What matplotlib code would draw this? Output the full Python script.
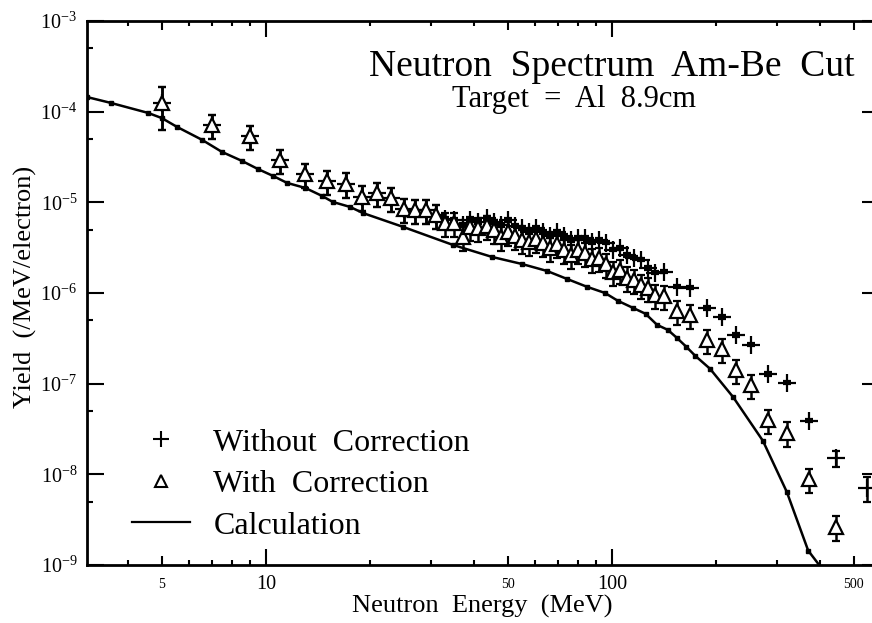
import matplotlib
matplotlib.use('Agg')
import matplotlib.pyplot as plt
from matplotlib.ticker import FixedLocator, FuncFormatter, NullFormatter, LogLocator
from matplotlib.lines import Line2D
import numpy as np

# ---------------- data ----------------
energy_with = [5, 7, 9, 11, 13, 15, 17, 19, 21, 23, 25, 27, 29, 31, 33, 35, 37, 39, 41,
               43.5, 45.6, 47.8, 50.0, 52.5, 54.9, 57.6, 60.3, 63.2, 66.2, 69.3, 72.7,
               76.1, 79.7, 83.6, 87.5, 91.7, 96.1, 100.7, 105.5, 110.5, 115.8, 121.3,
               127.1, 133.2, 141.4, 154, 168, 188, 208, 228, 252, 282, 320, 371, 444]
yield_with = [1.25e-4, 7.1e-5, 5.4e-5, 2.93e-5, 2.06e-5, 1.72e-5, 1.60e-5, 1.15e-5,
              1.27e-5, 1.12e-5, 8.45e-6, 8.24e-6, 8.24e-6, 7.26e-6, 5.93e-6, 5.93e-6,
              4.16e-6, 5.36e-6, 5.22e-6, 5.50e-6, 4.97e-6, 4.16e-6, 4.72e-6, 4.26e-6,
              3.85e-6, 3.66e-6, 3.95e-6, 3.57e-6, 3.14e-6, 3.48e-6, 2.99e-6, 2.63e-6,
              2.99e-6, 2.77e-6, 2.38e-6, 2.44e-6, 2.09e-6, 1.71e-6, 1.80e-6, 1.47e-6,
              1.39e-6, 1.23e-6, 1.14e-6, 9.5e-7, 9.3e-7, 6.35e-7, 5.74e-7, 3.04e-7,
              2.42e-7, 1.42e-7, 9.7e-8, 3.99e-8, 2.87e-8, 8.9e-9, 2.64e-9]
relerr_with = [0.5, 0.3, 0.3, 0.3, 0.3, 0.3, 0.3, 0.3, 0.3, 0.3, 0.3, 0.3, 0.3, 0.3,
               0.3, 0.3, 0.3, 0.3, 0.3, 0.3, 0.3, 0.3, 0.3, 0.3, 0.3, 0.3, 0.3, 0.3,
               0.3, 0.3, 0.3, 0.3, 0.3, 0.3, 0.3, 0.3, 0.3, 0.3, 0.3, 0.3, 0.3, 0.3,
               0.3, 0.3, 0.3, 0.3, 0.3, 0.3, 0.3, 0.3, 0.3, 0.3, 0.3, 0.3, 0.3]

energy_without = [5, 7, 9, 11, 13, 15, 17, 19, 21, 23, 25, 27, 29, 31, 33, 35, 37, 39, 41,
                  43.5, 45.6, 47.8, 50.0, 52.5, 54.9, 57.6, 60.3, 63.2, 66.2, 69.3, 72.7,
                  76.1, 79.7, 83.6, 87.5, 91.7, 96.1, 100.7, 105.5, 110.5, 115.8, 121.3,
                  127.1, 133.2, 141.4, 154, 168, 188, 208, 228, 252, 282, 320, 371, 444, 546]
yield_without = [1.25e-4, 7.1e-5, 5.4e-5, 2.93e-5, 2.06e-5, 1.72e-5, 1.60e-5, 1.15e-5,
                 1.27e-5, 1.12e-5, 8.45e-6, 8.24e-6, 8.24e-6, 7.26e-6, 6.56e-6, 6.40e-6,
                 5.64e-6, 6.40e-6, 6.08e-6, 6.73e-6, 6.08e-6, 5.64e-6, 6.40e-6, 5.50e-6,
                 5.22e-6, 4.72e-6, 5.22e-6, 4.72e-6, 4.26e-6, 4.72e-6, 4.26e-6, 3.85e-6,
                 4.05e-6, 4.05e-6, 3.66e-6, 3.85e-6, 3.57e-6, 2.99e-6, 3.14e-6, 2.63e-6,
                 2.44e-6, 2.32e-6, 1.89e-6, 1.67e-6, 1.71e-6, 1.17e-6, 1.14e-6, 6.85e-7,
                 5.45e-7, 3.45e-7, 2.68e-7, 1.28e-7, 1.02e-7, 3.89e-8, 1.52e-8, 7.1e-9]
relerr_without = [0.5, 0.3, 0.3, 0.3, 0.3, 0.3, 0.3, 0.3, 0.3, 0.3, 0.3, 0.3, 0.3, 0.3,
                  0.04, 0.04, 0.04, 0.04, 0.04, 0.04, 0.04, 0.04, 0.04, 0.04, 0.04, 0.04,
                  0.04, 0.04, 0.04, 0.04, 0.04, 0.04, 0.04, 0.04, 0.04, 0.04, 0.04, 0.04,
                  0.04, 0.04, 0.04, 0.04, 0.04, 0.04, 0.04, 0.04, 0.04, 0.04, 0.04, 0.04,
                  0.04, 0.04, 0.04, 0.04, 0.2, 0.3]

calc_energy = [3.04, 3.56, 4.56, 5.0, 5.53, 6.53, 7.46, 8.53, 9.48, 10.5, 11.5, 13.0, 14.5,
               15.6, 17.5, 19.1, 24.9, 34.7, 45.0, 54.9, 64.9, 74.1, 84.7, 95.5, 104, 115,
               125, 135, 145, 154, 164, 174, 192, 224, 273, 320, 369, 413]
calc_yield = [1.45e-4, 1.25e-4, 9.7e-5, 8.5e-5, 6.8e-5, 4.9e-5, 3.6e-5, 2.86e-5, 2.33e-5,
              1.95e-5, 1.64e-5, 1.44e-5, 1.18e-5, 1.01e-5, 8.9e-6, 7.6e-6, 5.36e-6, 3.39e-6,
              2.50e-6, 2.09e-6, 1.75e-6, 1.43e-6, 1.17e-6, 1.0e-6, 8.2e-7, 6.85e-7, 5.9e-7,
              4.45e-7, 3.92e-7, 3.2e-7, 2.55e-7, 2.03e-7, 1.46e-7, 7.1e-8, 2.34e-8, 6.4e-9,
              1.44e-9, 8.2e-10]

legend_labels = ['Without  Correction', 'With  Correction', 'Calculation']
x_major_ticks = [10, 100]
x_minor_ticks = [4, 5, 6, 7, 8, 9, 20, 30, 40, 50, 60, 70, 80, 90, 200, 300, 400, 500]
x_labeled_minor = [5, 50, 500]

# ---------------- style ----------------
plt.rcParams['font.family'] = ['Liberation Serif', 'DejaVu Serif']
plt.rcParams['mathtext.fontset'] = 'custom'
plt.rcParams['mathtext.rm'] = 'Liberation Serif'
plt.rcParams['mathtext.it'] = 'Liberation Serif:italic'
plt.rcParams['mathtext.bf'] = 'Liberation Serif:bold'

W, H = 872, 623
fig = plt.figure(figsize=(W / 100, H / 100), dpi=100)
ax = fig.add_axes([87 / W, 1 - 565 / H, 792 / W, 544 / H])

ax.set_xscale('log')
ax.set_yscale('log')

ye_wo = np.array(yield_without) * np.array(relerr_without)
ax.errorbar(energy_without, yield_without, yerr=ye_wo, fmt='+', ms=13, mew=1.6,
            color='black', ecolor='black', elinewidth=1.8, capsize=3, capthick=1.8, zorder=3)
ye_w = np.array(yield_with) * np.array(relerr_with)
ax.errorbar(energy_with, yield_with, yerr=ye_w, fmt='^', ms=10, mew=1.6, mfc='white',
            mec='black', ecolor='black', elinewidth=1.8, capsize=3, capthick=1.8, zorder=4)
ax.plot(calc_energy, calc_yield, '-', color='black', lw=1.8, marker='s', ms=2.2, zorder=2)

ax.set_xlim(3.04, 591)
ax.set_ylim(1e-9, 1e-3)

for s in ax.spines.values():
    s.set_linewidth(2)

ax.xaxis.set_major_locator(FixedLocator(x_major_ticks))
ax.xaxis.set_minor_locator(FixedLocator(x_minor_ticks))
ax.xaxis.set_major_formatter(FuncFormatter(lambda v, p: f'{v:g}'))
ax.xaxis.set_minor_formatter(FuncFormatter(
    lambda v, p: f'{v:g}' if int(round(v)) in x_labeled_minor else ''))
ax.tick_params(axis='x', which='major', direction='in', length=11.5, width=1.5,
               labelsize=14.5, top=True, pad=7)
ax.tick_params(axis='x', which='minor', direction='in', length=3.6, width=1.5,
               labelsize=10, top=True, pad=9)
for t, loc in zip(ax.xaxis.get_minor_ticks(len(x_minor_ticks)), x_minor_ticks):
    if loc in x_labeled_minor:
        t.tick1line.set_markersize(6.5)
        t.tick2line.set_markersize(6.5)

ax.yaxis.set_major_locator(LogLocator(base=10, numticks=20))
ax.yaxis.set_minor_locator(LogLocator(base=10, subs=[5], numticks=20))
ax.yaxis.set_minor_formatter(NullFormatter())
ax.yaxis.set_major_formatter(FuncFormatter(
    lambda v, p: r'$\mathregular{10^{%d}}$' % int(round(np.log10(v)))))
ax.tick_params(axis='y', which='major', direction='in', length=12, width=1.5,
               labelsize=14.5, right=True, pad=7)
ax.tick_params(axis='y', which='minor', direction='in', length=4.5, width=1.5, right=True)

handles = [Line2D([], [], ls='none', marker='+', ms=12, mew=1.5, color='black'),
           Line2D([], [], ls='none', marker='^', ms=8, mew=1.5, mfc='white', mec='black'),
           Line2D([], [], ls='-', lw=1.6, color='black')]
ax.legend(handles, legend_labels, loc='lower left', bbox_to_anchor=(0.057, 0.045),
          frameon=False, fontsize=23, handlelength=1.82, handletextpad=0.72,
          labelspacing=0.38, borderpad=0, borderaxespad=0)

fig.text(854 / W, 1 - 76 / H, 'Neutron  Spectrum  Am-Be  Cut', ha='right',
         va='baseline', fontsize=27)
fig.text(574 / W, 1 - 100 / H, 'Target  =  Al  8.9cm', ha='center', va='center', fontsize=22)
fig.text(482 / W, 1 - 606 / H, 'Neutron  Energy  (MeV)', ha='center', va='center', fontsize=19)
fig.text(25 / W, 1 - 287 / H, 'Yield  (/MeV/electron)', ha='center', va='center',
         rotation=90, fontsize=19)

fig.savefig('out.png', dpi=100)
